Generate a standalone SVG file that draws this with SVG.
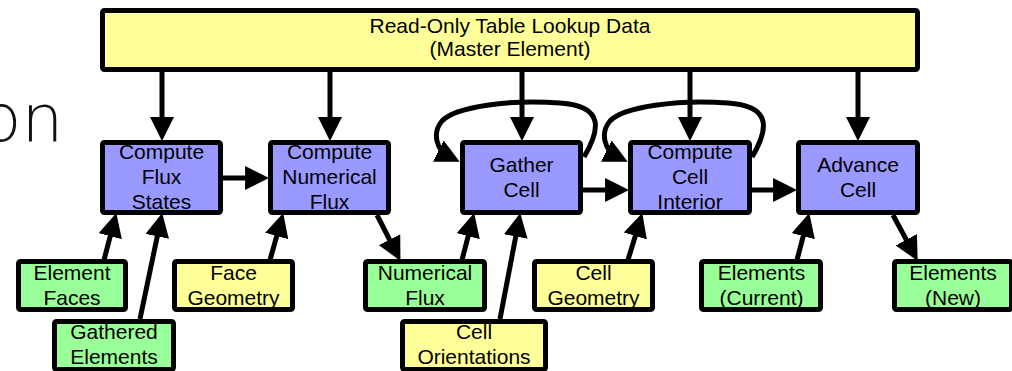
<svg xmlns="http://www.w3.org/2000/svg" width="1012" height="371" viewBox="0 0 1012 371">
<style>
  .box { stroke: #000; stroke-width: 5; }
  .blue { fill: #9999ff; }
  .green { fill: #99ff99; }
  .yellow { fill: #ffff99; }
  .lbl { font-family: "Liberation Sans", Arial, sans-serif; font-size: 21px; fill: #000; text-anchor: middle; }
  .conn { fill: none; stroke: #000; stroke-width: 5; marker-end: url(#ah); }
  .big { font-family: "DejaVu Sans", sans-serif; font-weight: 200; font-size: 66px; fill: #111; }
</style>
<defs>
  <marker id="ah" markerUnits="userSpaceOnUse" markerWidth="24" markerHeight="24" viewBox="0 0 22 22" refX="10" refY="11" orient="auto">
    <path d="M0,0 L22,11 L0,22 z" fill="#000"/>
  </marker>
</defs>
<rect width="1012" height="371" fill="#fff"/>
<text class="big" x="-19" y="141">on</text>

<g id="master">
  <rect class="box yellow" x="102.5" y="10.5" width="815" height="59" rx="2"/>
  <text class="lbl" x="510" y="33">Read-Only Table Lookup Data</text>
  <text class="lbl" x="510" y="56">(Master Element)</text>
</g>
<g id="computeFluxStates">
  <rect class="box blue" x="102.5" y="142.5" width="118" height="70" rx="2"/>
  <text class="lbl" x="161.5" y="159">Compute</text>
  <text class="lbl" x="161.5" y="184">Flux</text>
  <text class="lbl" x="161.5" y="209">States</text>
</g>
<g id="computeNumericalFlux">
  <rect class="box blue" x="270.5" y="142.5" width="118" height="70" rx="2"/>
  <text class="lbl" x="329.5" y="159">Compute</text>
  <text class="lbl" x="329.5" y="184">Numerical</text>
  <text class="lbl" x="329.5" y="209">Flux</text>
</g>
<g id="gatherCell">
  <rect class="box blue" x="462.5" y="142.5" width="118" height="70" rx="2"/>
  <text class="lbl" x="521.5" y="172">Gather</text>
  <text class="lbl" x="521.5" y="197">Cell</text>
</g>
<g id="computeCellInterior">
  <rect class="box blue" x="630.5" y="142.5" width="119" height="70" rx="2"/>
  <text class="lbl" x="690" y="159">Compute</text>
  <text class="lbl" x="690" y="184">Cell</text>
  <text class="lbl" x="690" y="209">Interior</text>
</g>
<g id="advanceCell">
  <rect class="box blue" x="798.5" y="142.5" width="119" height="70" rx="2"/>
  <text class="lbl" x="858" y="172">Advance</text>
  <text class="lbl" x="858" y="197">Cell</text>
</g>
<g id="elementFaces">
  <rect class="box green" x="18.5" y="261.5" width="107" height="48" rx="2"/>
  <text class="lbl" x="72" y="279.5">Element</text>
  <text class="lbl" x="72" y="304.5">Faces</text>
</g>
<g id="gatheredElements">
  <rect class="box green" x="54.5" y="321.5" width="119" height="48" rx="2"/>
  <text class="lbl" x="114" y="338.5">Gathered</text>
  <text class="lbl" x="114" y="363.5">Elements</text>
</g>
<g id="faceGeometry">
  <rect class="box yellow" x="174.5" y="261.5" width="118" height="48" rx="2"/>
  <text class="lbl" x="233.5" y="279.5">Face</text>
  <text class="lbl" x="233.5" y="304.5">Geometry</text>
</g>
<g id="numericalFlux">
  <rect class="box green" x="365.5" y="261.5" width="119" height="48" rx="2"/>
  <text class="lbl" x="425" y="279.5">Numerical</text>
  <text class="lbl" x="425" y="304.5">Flux</text>
</g>
<g id="cellOrientations">
  <rect class="box yellow" x="402.5" y="321.5" width="143" height="48" rx="2"/>
  <text class="lbl" x="474" y="338.5">Cell</text>
  <text class="lbl" x="474" y="363.5">Orientations</text>
</g>
<g id="cellGeometry">
  <rect class="box yellow" x="534.5" y="261.5" width="118" height="48" rx="2"/>
  <text class="lbl" x="593.5" y="279.5">Cell</text>
  <text class="lbl" x="593.5" y="304.5">Geometry</text>
</g>
<g id="elementsCurrent">
  <rect class="box green" x="701.5" y="261.5" width="119" height="48" rx="2"/>
  <text class="lbl" x="761.5" y="279.5">Elements</text>
  <text class="lbl" x="761.5" y="304.5">(Current)</text>
</g>
<g id="elementsNew">
  <rect class="box green" x="894.5" y="261.5" width="117" height="48" rx="2"/>
  <text class="lbl" x="953" y="279.5">Elements</text>
  <text class="lbl" x="953" y="304.5">(New)</text>
</g>

<g id="connectors">
  <path class="conn" d="M162,72 V128"/>
  <path class="conn" d="M330,72 V128"/>
  <path class="conn" d="M522,72 V128"/>
  <path class="conn" d="M690,72 V128"/>
  <path class="conn" d="M858,72 V128"/>
  <path class="conn" d="M223,178 H256"/>
  <path class="conn" d="M583,190 H616"/>
  <path class="conn" d="M752,190 H784"/>
  <path class="conn" d="M104,260 L113,225.6"/>
  <path class="conn" d="M140,319 L159.5,225.7"/>
  <path class="conn" d="M270,260 L279.7,225.5"/>
  <path class="conn" d="M377,215 L394.5,249.3"/>
  <path class="conn" d="M462,260 L470.9,225.6"/>
  <path class="conn" d="M500,319 L517.8,225.8"/>
  <path class="conn" d="M628,260 L638.5,225.5"/>
  <path class="conn" d="M797,260 L806,225.6"/>
  <path class="conn" d="M893,215 L911.5,249.4"/>
  <path class="conn" d="M584,157 C600,130 605,106 560,103 C510,99 455,107 442,121 C431,134 438,151 448,156"/>
  <path class="conn" d="M752,157 C768,130 773,106 728,103 C678,99 623,107 610,121 C599,134 606,151 616,156"/>
</g>
</svg>
